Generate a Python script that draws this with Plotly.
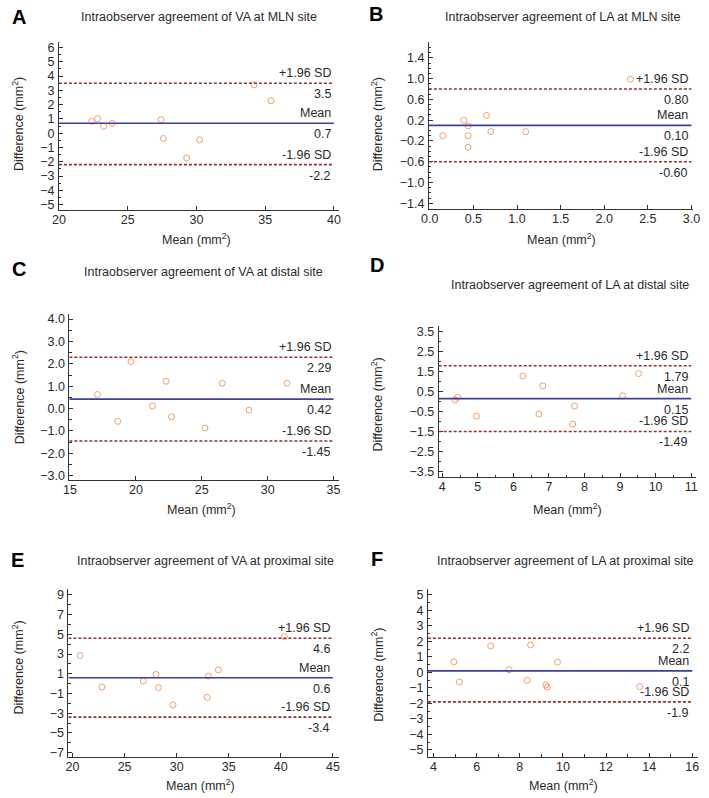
import plotly.graph_objects as go

W, H = 709, 798

letters = ["A", "B", "C", "D", "E", "F"]
titles = [
    "Intraobserver agreement of VA at MLN site",
    "Intraobserver agreement of LA at MLN site",
    "Intraobserver agreement of VA at distal site",
    "Intraobserver agreement of LA at distal site",
    "Intraobserver agreement of VA at proximal site",
    "Intraobserver agreement of LA at proximal site",
]

# Bland-Altman data: mean of two measurements (x) vs difference (y)
a_mean = [22.38, 22.81, 23.24, 23.86, 27.43, 27.60, 29.29, 30.24, 34.19, 35.43]
a_diff = [0.83, 1.02, 0.49, 0.69, 0.95, -0.37, -1.74, -0.46, 3.38, 2.27]

b_mean = [0.15, 0.39, 0.44, 0.44, 0.44, 0.65, 0.70, 1.10, 2.30]
b_diff = [-0.10, 0.20, 0.09, -0.10, -0.32, 0.29, -0.02, -0.02, 0.99]

c_mean = [17.08, 18.62, 19.63, 21.25, 22.29, 22.71, 25.24, 26.55, 28.58, 31.46]
c_diff = [0.63, -0.57, 2.10, 0.12, 1.22, -0.37, -0.87, 1.13, -0.07, 1.13]

d_mean = [4.36, 4.43, 4.96, 6.27, 6.72, 6.83, 7.67, 7.72, 9.07, 9.52]
d_diff = [0.09, 0.22, -0.72, 1.28, -0.62, 0.79, -1.12, -0.22, 0.29, 1.40]

e_mean = [20.72, 22.82, 26.79, 28.01, 28.26, 29.64, 32.92, 33.04, 34.01, 40.34]
e_diff = [2.85, -0.34, 0.26, 0.93, -0.41, -2.16, -1.39, 0.76, 1.40, 4.76]

f_mean = [4.94, 5.20, 6.65, 7.50, 8.34, 8.50, 9.21, 9.27, 9.75, 13.56]
f_diff = [0.68, -0.62, 1.71, 0.17, -0.51, 1.77, -0.81, -0.94, 0.66, -0.92]

upper_loa = [3.5, 0.80, 2.29, 1.79, 4.6, 2.2]
mean_diff = [0.7, 0.10, 0.42, 0.15, 0.6, 0.1]
lower_loa = [-2.2, -0.60, -1.45, -1.49, -3.4, -1.9]
decimals = [1, 2, 2, 2, 1, 1]

series = [(a_mean, a_diff), (b_mean, b_diff), (c_mean, c_diff),
          (d_mean, d_diff), (e_mean, e_diff), (f_mean, f_diff)]

# panel geometry (pixel boxes) and axis settings
panels = [
    dict(px=(52, 338), py=(40, 209), xr=[20, 40.36], yr=[-5.35, 6.4], xend=40,
         xd=5, xt0=0, xm=None, xfmt="", yd=1, yt0=0, ym=0.5, yfmt="",
         title=(195, 15), lab=(11, 15), xt=(193, 238), yt=(10, 123)),
    dict(px=(430, 700), py=(40, 208.3), xr=[-0.01, 3.02], yr=[-1.51, 1.71], xend=3.0,
         xd=0.5, xt0=0, xm=None, xfmt=".1f", yd=0.4, yt0=0.2, ym=0.1, yfmt=".1f",
         title=(567, 15), lab=(376, 12), xt=(565, 238), yt=(377, 123)),
    dict(px=(62.7, 338), py=(314.3, 481), xr=[14.95, 35.4], yr=[-3.19, 4.21], xend=35,
         xd=5, xt0=0, xm=None, xfmt="", yd=1, yt0=0, ym=0.5, yfmt=".1f",
         title=(200, 272), lab=(11, 269), xt=(198, 510), yt=(10, 398)),
    dict(px=(440, 703), py=(326, 478.3), xr=[3.9, 11.14], yr=[-3.78, 3.78], xend=11,
         xd=1, xt0=0, xm=0.5, xfmt="", yd=1, yt0=0.5, ym=0.5, yfmt=".1f",
         title=(574, 285), lab=(377, 265), xt=(572, 510), yt=(377, 405)),
    dict(px=(61.7, 338.3), py=(591, 759.3), xr=[19.6, 45.6], yr=[-7.4, 9.57], xend=45,
         xd=5, xt0=0, xm=None, xfmt="", yd=2, yt0=1, ym=1, yfmt="",
         title=(202, 563), lab=(10, 562), xt=(197, 788), yt=(10, 670)),
    dict(px=(429, 705), py=(591, 759.3), xr=[3.74, 16.27], yr=[-5.43, 5.36], xend=16,
         xd=2, xt0=0, xm=1, xfmt="", yd=1, yt0=0, ym=0.5, yfmt="",
         title=(569, 563), lab=(377, 561), xt=(567, 788), yt=(377, 677)),
]

FONT = "Liberation Sans, Arial, sans-serif"
TXT = "#2a2a2a"
AX = "#333333"
PT = "#F2A06A"
DASH = "#962F2F"
MEANC = "#3E3E9C"


def px2x(x):
    return x / W


def px2y(y):
    return 1 - y / H


fig = go.Figure()
layout = dict(
    width=W, height=H, margin=dict(l=0, r=0, t=0, b=0),
    paper_bgcolor="white", plot_bgcolor="white", showlegend=False,
    font=dict(family=FONT, size=12, color=TXT),
)
annotations = []
shapes = []

for i, p in enumerate(panels):
    n = i + 1
    xa = "xaxis" if n == 1 else f"xaxis{n}"
    ya = "yaxis" if n == 1 else f"yaxis{n}"
    xref = "x" if n == 1 else f"x{n}"
    yref = "y" if n == 1 else f"y{n}"

    xaxis = dict(
        domain=[px2x(p["px"][0]), px2x(p["px"][1])], range=p["xr"], anchor=yref,
        showgrid=False, zeroline=False, showline=True, linecolor=AX, linewidth=1,
        ticks="inside", ticklen=4, tickwidth=1, tickcolor=AX,
        tick0=p["xt0"], dtick=p["xd"], tickformat=p["xfmt"],
        tickfont=dict(size=12.5, color=TXT, family=FONT), ticklabelstandoff=-2,
    )
    if p["xm"]:
        xaxis["minor"] = dict(dtick=p["xm"], tick0=0, ticks="inside", ticklen=2.5,
                              tickcolor=AX, tickwidth=1, showgrid=False)
    yaxis = dict(
        domain=[px2y(p["py"][1]), px2y(p["py"][0])], range=p["yr"], anchor=xref,
        showgrid=False, zeroline=False, showline=True, linecolor=AX, linewidth=1,
        ticks="inside", ticklen=4, tickwidth=1, tickcolor=AX,
        tick0=p["yt0"], dtick=p["yd"], tickformat=p["yfmt"],
        tickfont=dict(size=12.5, color=TXT, family=FONT), ticklabelstandoff=1,
        minor=dict(dtick=p["ym"], tick0=p["yt0"], ticks="inside", ticklen=2.5,
                   tickcolor=AX, tickwidth=1, showgrid=False),
    )
    layout[xa] = xaxis
    layout[ya] = yaxis

    xs, ys = series[i]
    fig.add_trace(go.Scatter(
        x=xs, y=ys, mode="markers", xaxis=xref, yaxis=yref,
        marker=dict(symbol="circle-open", size=6, color=PT, line=dict(width=1, color=PT)),
    ))

    x0 = p["xr"][0]
    x1 = p["xend"]
    for val, col, dash in [(upper_loa[i], DASH, "3px,2px"), (mean_diff[i], MEANC, "solid"),
                           (lower_loa[i], DASH, "3px,2px")]:
        shapes.append(dict(type="line", xref=xref, yref=yref, x0=x0, x1=x1, y0=val, y1=val,
                           line=dict(color=col, width=1.6, dash=dash)))

    fmt = "{:.%df}" % decimals[i]
    lab_items = [
        ("+1.96 SD", upper_loa[i], "bottom", 1),
        (fmt.format(upper_loa[i]), upper_loa[i], "top", -2),
        ("Mean", mean_diff[i], "bottom", 1),
        (fmt.format(mean_diff[i]), mean_diff[i], "top", -2),
        ("-1.96 SD", lower_loa[i], "bottom", 1),
        (fmt.format(lower_loa[i]), lower_loa[i], "top", -2),
    ]
    for txt, yv, anc, ysh in lab_items:
        annotations.append(dict(
            text=txt, xref=xref, yref=yref, x=x1, y=yv, xanchor="right", yanchor=anc,
            xshift=-1, yshift=ysh, showarrow=False,
            font=dict(size=12.5, color=TXT, family=FONT),
        ))

    # title
    annotations.append(dict(
        text=titles[i], xref="paper", yref="paper", x=px2x(p["title"][0]), y=px2y(p["title"][1]),
        xanchor="center", yanchor="middle", showarrow=False,
        font=dict(size=12.5, color=TXT, family=FONT),
    ))
    # panel letter
    annotations.append(dict(
        text="<b>%s</b>" % letters[i], xref="paper", yref="paper",
        x=px2x(p["lab"][0]), y=px2y(p["lab"][1]), xanchor="center", yanchor="middle",
        showarrow=False, font=dict(size=20, color="black", family=FONT),
    ))
    # axis titles
    annotations.append(dict(
        text="Mean (mm<sup>2</sup>)", xref="paper", yref="paper",
        x=px2x(p["xt"][0]), y=px2y(p["xt"][1]), xanchor="center", yanchor="middle",
        showarrow=False, font=dict(size=12.5, color=TXT, family=FONT),
    ))
    annotations.append(dict(
        text="Difference (mm<sup>2</sup>)", xref="paper", yref="paper",
        x=px2x(p["yt"][0]), y=px2y(p["yt"][1]), xanchor="center", yanchor="middle",
        textangle=-90, showarrow=False, font=dict(size=12.5, color=TXT, family=FONT),
    ))

layout["annotations"] = annotations
layout["shapes"] = shapes
fig.update_layout(**layout)
fig.write_html(
    "out.html",
    config={"displayModeBar": False},
    post_script="document.body.style.margin='0';document.body.style.overflow='hidden';",
)
